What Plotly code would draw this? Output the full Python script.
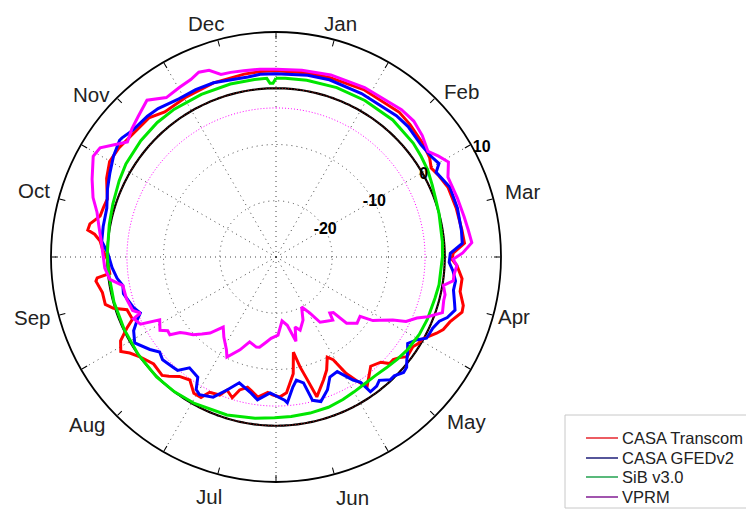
import math
import plotly.graph_objects as go

# ---------------------------------------------------------------
# Seasonal cycle of net flux anomaly by model (day of year, value)
# ---------------------------------------------------------------
months = ["Jan", "Feb", "Mar", "Apr", "May", "Jun",
          "Jul", "Aug", "Sep", "Oct", "Nov", "Dec"]

radial_ticks = [-20, -10, 0, 10]
radial_labels = ["-20", "-10", "0", "10"]

casa_transcom_day = [0, 10, 17, 28, 41, 46, 53, 58, 61, 64, 69, 76, 83, 87, 90, 92, 94, 98,
                     102, 106, 108, 112, 115, 117, 121, 123, 125, 129, 131, 133, 135, 137,
                     141, 147, 149, 151, 153, 155, 158, 161, 166, 168, 170, 172, 174, 178,
                     181, 184, 186, 190, 193, 195, 198, 200, 203, 205, 209, 211, 214, 218,
                     222, 225, 227, 232, 237, 240, 242, 245, 248, 250, 254, 256, 258, 262,
                     266, 267, 268, 273, 276, 279, 281, 282, 284, 287, 290, 293, 296, 299,
                     304, 309, 314, 322, 327, 335, 345, 355, 360, 365]
casa_transcom_val = [3.1, 3.2, 3.3, 3.6, 3.8, 3.5, 3.0, 2.5, 1.8, 2.3, 3.0, 3.2, 3.4, 3.6, 1.5,
                     1.3, 2.2, 3.3, 3.3, 4.4, 4.5, 3.0, 2.4, 1.6, -0.2, -0.4, -0.9, -0.7, -1.7,
                     -2.3, -2.3, -3.6, -4.3, -1.8, -3.8, -5.8, -9.1, -10.0, -8.0, -6.6, -4.1,
                     -7.5, -10.0, -12.8, -9.0, -5.8, -5.1, -5.5, -5.9, -4.9, -5.8, -6.3, -5.5,
                     -3.8, -4.8, -3.5, -3.2, -1.7, -1.7, -3.3, -2.7, -1.5, -0.8, -1.1, 0.0, 1.1,
                     2.3, 1.4, -0.7, -2.2, -1.9, 0.3, 1.5, 1.5, 2.3, 2.0, -0.3, 0.0, 0.8, 1.4,
                     2.5, 3.8, 3.6, 2.1, 1.9, 1.7, 2.4, 3.2, 4.1, 4.0, 3.6, 3.5, 2.5, 2.6, 2.9,
                     3.0, 3.1, 3.1]

casa_gfed_day = [0, 10, 17, 28, 41, 46, 53, 58, 61, 63, 69, 76, 83, 87, 90, 93, 96, 99, 102,
                 106, 108, 111, 113, 116, 118, 120, 122, 125, 128, 130, 132, 134, 137, 139,
                 142, 144, 147, 148, 150, 154, 158, 161, 165, 168, 170, 173, 175, 178, 179,
                 185, 190, 193, 199, 203, 207, 212, 214, 216, 221, 224, 226, 231, 234, 237,
                 242, 246, 249, 251, 254, 260, 263, 266, 270, 275, 279, 284, 290, 296, 301,
                 306, 311, 312, 316, 322, 326, 333, 339, 345, 356, 360, 365]
casa_gfed_val = [2.6, 2.8, 2.9, 2.8, 3.0, 3.0, 2.6, 2.9, 3.4, 2.2, 3.3, 3.4, 3.3, 3.2, 1.0, 0.8,
                 1.6, 2.2, 2.1, 2.8, 3.2, 2.3, 1.2, 0.6, 0.5, 0.4, -0.9, -2.0, -1.0, -0.4, 0.4,
                 0.6, -0.2, -0.2, -1.4, -0.9, -0.75, -3.1, -4.2, -6.9, -6.6, -4.7, -3.1, -3.7,
                 -7.1, -7.8, -6.7, -4.0, -4.5, -5.8, -4.4, -5.4, -6.7, -4.8, -2.7, -2.0, -2.5,
                 -4.5, -5.0, -3.3, -3.2, -2.8, -3.3, -2.2, -0.6, -1.5, -2.9, -3.9, -3.1, -2.1,
                 -2.3, -1.5, -0.8, -0.1, 1.1, 1.2, 1.3, 2.3, 3.1, 4.0, 4.7, 4.6, 4.0, 3.9, 3.7,
                 3.0, 3.0, 2.9, 2.4, 2.6, 2.6]

sib_day = [0, 3, 10, 20, 30, 41, 51, 56, 61, 66, 71, 76, 86, 91, 101, 106, 114, 120, 127, 132,
           137, 142, 147, 152, 157, 163, 170, 177, 183, 190, 200, 212, 220, 228, 238, 248, 258,
           268, 275, 285, 292, 300, 306, 315, 323, 330, 340, 350, 358, 362, 363, 364, 365]
sib_val = [1.8, 1.8, 1.9, 2.0, 2.0, 2.0, 1.7, 1.4, 1.1, 0.6, 0.2, 0.0, -0.3, -0.4, -0.6, -0.8,
           -0.9, -1.05, -1.4, -1.8, -2.2, -2.5, -2.5, -2.3, -2.0, -1.7, -1.6, -1.5, -1.4, -1.1,
           -0.6, -0.2, 0.0, 0.1, 0.0, -0.1, -0.1, -0.1, 0.0, 0.2, 0.5, 1.0, 1.4, 1.7, 1.9, 1.9,
           1.8, 1.8, 1.8, 1.8, 0.9, 0.9, 1.8]

vprm_day = [0, 8, 17, 28, 41, 46, 51, 56, 59, 62, 66, 73, 79, 83, 87, 90, 92, 94, 97, 99, 101,
            104, 106, 110, 113, 115, 118, 120, 123, 125, 127, 131, 135, 136, 138, 140, 144,
            148, 151, 155, 159, 164, 167, 169, 173, 177, 181, 186, 189, 193, 195, 200, 204,
            209, 211, 216, 220, 224, 227, 230, 233, 235, 237, 239, 241, 245, 247, 250, 251,
            253, 258, 263, 266, 270, 275, 279, 284, 288, 292, 297, 303, 306, 309, 312, 316,
            320, 325, 330, 335, 339, 342, 345, 348, 351, 355, 360, 365]
vprm_val = [3.4, 3.5, 3.8, 4.0, 4.4, 4.4, 3.8, 2.9, 4.0, 5.0, 3.7, 3.9, 4.2, 4.5, 4.9, 3.2, 1.5,
            2.2, 1.8, 1.8, 0.2, 0.8, 0.8, 1.2, -1.0, -2.7, -4.2, -6.4, -8.4, -9.4, -11.7,
            -11.4, -12.8, -15.8, -16.2, -14.9, -15.5, -16.0, -18.4, -20.0, -17.8, -16.3,
            -17.1, -14.6, -17.7, -18.6, -16.1, -15.5, -14.8, -13.7, -13.6, -14.2, -12.3,
            -10.2, -11.3, -13.0, -14.4, -12.1, -11.0, -9.8, -9.0, -8.3, -6.6, -6.7, -5.6,
            -6.5, -3.1, -2.4, -3.9, -2.8, -2.4, -2.3, -0.2, 0.5, 0.8, 1.2, 2.0, 2.8, 4.2, 5.5,
            7.1, 6.8, 5.0, 3.4, 4.3, 5.0, 6.1, 4.4, 4.7, 5.0, 5.6, 5.25, 3.9, 3.8, 3.6, 3.5,
            3.4]

# reference levels drawn as full circles
zero_level = 0.0
vprm_mean_level = -3.5
year_days = list(range(0, 366))

series_names = ["CASA Transcom", "CASA GFEDv2", "SiB v3.0", "VPRM"]
line_colors = ["#ff0000", "#0000ff", "#00e600", "#ff00ff"]
legend_colors = ["#e8333a", "#2b2b80", "#2fa85a", "#8a2a9a"]

FONT = "Liberation Sans, Arial, sans-serif"

# where the month names sit around the ring (angle clockwise from top, distance in px)
month_label_angles = [15.4, 48.3, 75.1, 104.1, 130.8, 162.4,
                      195.6, 228.4, 256.0, 285.3, 311.3, 343.3]
month_label_dist = [242, 249, 255, 245, 251, 252, 249, 253, 251.5, 251, 246, 244]
radial_label_angle = 61
radial_label_pos = ["middle center", "middle center", "middle center", "middle right"]

W, H = 746, 513
cx, cy, R = 276, 257, 225
R_MIN, R_MAX = -30, 10


def to_deg(days):
    return [d / 365.0 * 360.0 for d in days]


fig = go.Figure()

# dotted spokes every 30 degrees
spoke_r, spoke_t = [], []
for k in range(12):
    spoke_r += [R_MIN, R_MAX, None]
    spoke_t += [k * 30, k * 30, None]
fig.add_trace(go.Scatterpolar(r=spoke_r, theta=spoke_t, mode="lines",
                              line=dict(color="#444444", width=1, dash="1px,4px"),
                              hoverinfo="skip", showlegend=False))

# mean VPRM level (dotted magenta) and zero level (black)
fig.add_trace(go.Scatterpolar(r=[vprm_mean_level] * len(year_days), theta=to_deg(year_days),
                              mode="lines", line=dict(color="#ff00ff", width=1, dash="1px,2px"),
                              hoverinfo="skip", showlegend=False))
fig.add_trace(go.Scatterpolar(r=[zero_level] * len(year_days), theta=to_deg(year_days),
                              mode="lines", line=dict(color="#000000", width=2.2),
                              hoverinfo="skip", showlegend=False))
fig.add_trace(go.Scatterpolar(r=[zero_level] * len(year_days), theta=to_deg(year_days),
                              mode="lines", line=dict(color="#9a1010", width=1, dash="1px,2px"),
                              hoverinfo="skip", showlegend=False))

model_days = [casa_transcom_day, casa_gfed_day, sib_day, vprm_day]
model_vals = [casa_transcom_val, casa_gfed_val, sib_val, vprm_val]
for name, days, vals, col in zip(series_names, model_days, model_vals, line_colors):
    fig.add_trace(go.Scatterpolar(r=vals, theta=to_deg(days), mode="lines", name=name,
                                  line=dict(color=col, width=3), showlegend=False))

# radial value labels on their rings
fig.add_trace(go.Scatterpolar(r=radial_ticks, theta=[radial_label_angle] * len(radial_ticks),
                              mode="text", text=radial_labels, textposition=radial_label_pos,
                              textfont=dict(size=16, family=FONT, color="black", weight="bold"),
                              cliponaxis=False, hoverinfo="skip", showlegend=False))

# overlay subplot that only carries the outer ring with inward ticks
fig.add_trace(go.Scatterpolar(r=[None], theta=[None], subplot="polar2",
                              hoverinfo="skip", showlegend=False))

domain = dict(x=[(cx - R) / W, (cx + R) / W], y=[(H - cy - R) / H, (H - cy + R) / H])
ring_ticks = [15 * i for i in range(24)]

annotations = []
# month names around the outside of the ring
for name, ang, dist in zip(months, month_label_angles, month_label_dist):
    a = math.radians(ang)
    px = cx + dist * math.sin(a)
    py = cy - dist * math.cos(a)
    annotations.append(dict(text=name, xref="paper", yref="paper", x=px / W, y=(H - py) / H,
                            xanchor="center", yanchor="middle", showarrow=False,
                            font=dict(size=20.5, family=FONT, color="#222222")))

# legend drawn in a light box at the lower right
legend_top, legend_rows = 415, [438, 458, 477, 497]
shapes = [dict(type="rect", xref="paper", yref="paper",
               x0=565 / W, x1=1.02, y0=(H - 508) / H, y1=(H - legend_top) / H,
               line=dict(color="#c8c8c8", width=1), fillcolor="rgba(0,0,0,0)")]
for name, col, yy in zip(series_names, legend_colors, legend_rows):
    shapes.append(dict(type="line", xref="paper", yref="paper",
                       x0=586 / W, x1=618 / W, y0=(H - yy) / H, y1=(H - yy) / H,
                       line=dict(color=col, width=1.6)))
    annotations.append(dict(text=name, xref="paper", yref="paper", x=620 / W, y=(H - yy) / H,
                            xanchor="left", yanchor="middle", showarrow=False,
                            font=dict(size=16.5, family=FONT, color="#222222")))

fig.update_layout(
    width=W, height=H,
    margin=dict(l=0, r=0, t=0, b=0, autoexpand=False),
    paper_bgcolor="white",
    showlegend=False,
    font=dict(family=FONT, color="#222222"),
    polar=dict(
        domain=domain,
        bgcolor="white",
        angularaxis=dict(
            rotation=90, direction="clockwise",
            showticklabels=False, ticks="", showline=False, showgrid=False,
        ),
        radialaxis=dict(
            range=[R_MIN, R_MAX], tickmode="array", tickvals=radial_ticks,
            showticklabels=False, showline=False, ticks="",
            showgrid=True, gridcolor="#444444", gridwidth=1, griddash="1px,4px",
        ),
    ),
    polar2=dict(
        domain=domain,
        bgcolor="rgba(0,0,0,0)",
        angularaxis=dict(
            rotation=90, direction="clockwise",
            tickmode="array", tickvals=ring_ticks, showticklabels=False,
            ticks="inside", ticklen=6, tickwidth=1.2, tickcolor="black",
            showline=True, linecolor="black", linewidth=1.8, showgrid=False,
        ),
        radialaxis=dict(visible=False, range=[R_MIN, R_MAX]),
    ),
    shapes=shapes,
    annotations=annotations,
)

fig.write_html("out.html")
